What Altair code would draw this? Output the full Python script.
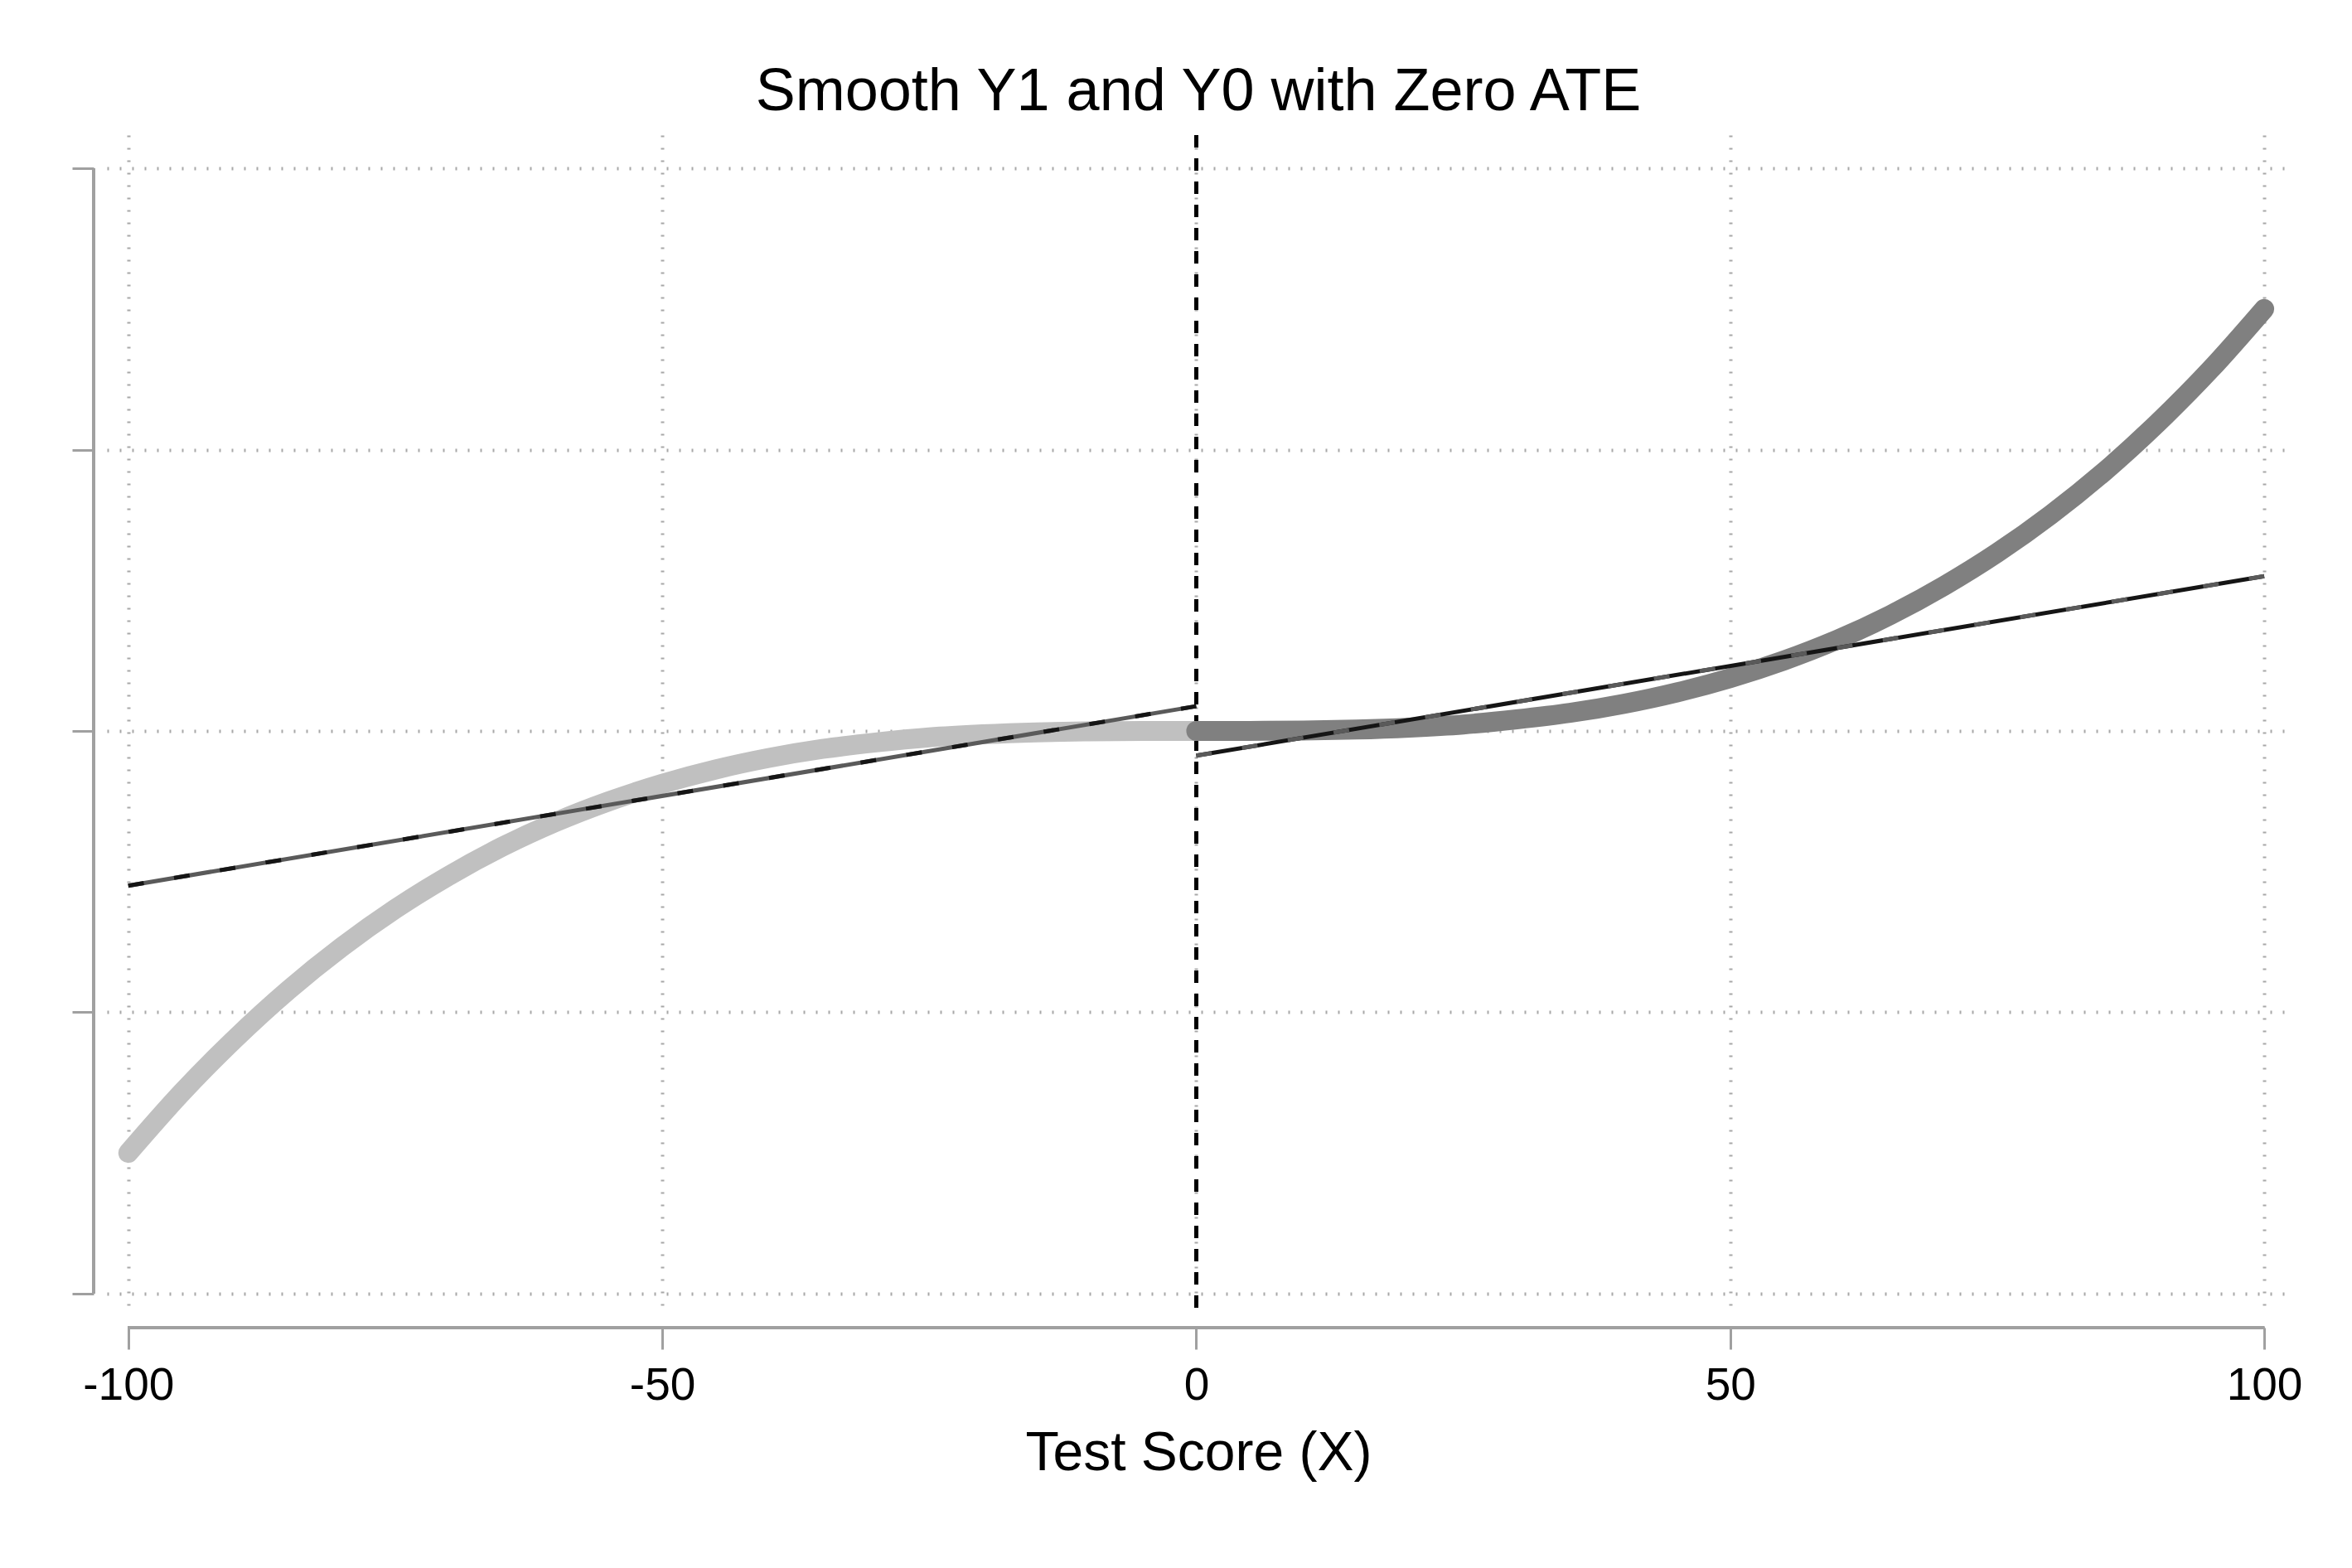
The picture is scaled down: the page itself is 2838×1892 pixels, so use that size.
import altair as alt
import pandas as pd

# values (y in grid units, grid lines at -2..2)
x_left = [-100, -95, -90, -85, -80, -75, -70, -65, -60, -55, -50,
          -45, -40, -35, -30, -25, -20, -15, -10, -5, 0]
y_left = [-1.50, -1.286, -1.094, -0.921, -0.768, -0.633, -0.515, -0.412, -0.324, -0.250, -0.188,
          -0.137, -0.096, -0.064, -0.041, -0.023, -0.012, -0.005, -0.0015, -0.0002, 0.0]
x_right = [0, 5, 10, 15, 20, 25, 30, 35, 40, 45, 50,
           55, 60, 65, 70, 75, 80, 85, 90, 95, 100]
y_right = [0.0, 0.0002, 0.0015, 0.005, 0.012, 0.023, 0.041, 0.064, 0.096, 0.137, 0.188,
           0.250, 0.324, 0.412, 0.515, 0.633, 0.768, 0.921, 1.094, 1.286, 1.50]

fit_x_left = [-100, 0]
fit_y_left = [-0.55, 0.088]
fit_x_right = [0, 100]
fit_y_right = [-0.088, 0.55]

x_ticks = [-100, -50, 0, 50, 100]
y_ticks = [-2, -1, 0, 1, 2]

W, H = 2634, 1423
FONT = "Liberation Sans"

left = pd.DataFrame({"x": x_left, "y": y_left})
right = pd.DataFrame({"x": x_right, "y": y_right})
fit_left = pd.DataFrame({"x": fit_x_left, "y": fit_y_left})
fit_right = pd.DataFrame({"x": fit_x_right, "y": fit_y_right})

xs = alt.Scale(domain=[-102, 102.4], nice=False, zero=False)
ys = alt.Scale(domain=[-2.074, 2.118], nice=False, zero=False)

grid_style = dict(grid=True, gridColor="#a8a8a8", gridWidth=4, gridDash=[2, 13], gridOpacity=1)

x_axis = alt.Axis(values=x_ticks, title="Test Score (X)", domain=False,
                  offset=16, tickSize=26, tickWidth=3, tickColor="#a0a0a0",
                  labelExpr="datum.value", labelFontSize=55, labelFont=FONT,
                  labelColor="black", labelPadding=17, labelFlush=False,
                  titleFontSize=66, titleFont=FONT, titleFontWeight="normal",
                  titleColor="black", titlePadding=22, **grid_style)
y_axis = alt.Axis(values=y_ticks, title=None, labels=False, domain=False,
                  offset=16, tickSize=26, tickWidth=3, tickColor="#a0a0a0", **grid_style)

X = alt.X("x:Q", scale=xs, axis=x_axis)
Y = alt.Y("y:Q", scale=ys, axis=y_axis)

xline = alt.Chart(left).mark_rule(color="black", strokeWidth=4, strokeDash=[15, 13]).encode(
    x=alt.datum(0, scale=xs, axis=x_axis)
)

scat_left = alt.Chart(left).mark_line(color="#c0c0c0", strokeWidth=24, strokeCap="round",
                                      interpolate="monotone").encode(x=X, y=Y)
scat_right = alt.Chart(right).mark_line(color="#808080", strokeWidth=24, strokeCap="round",
                                        interpolate="monotone").encode(x=X, y=Y)

fitl_base = alt.Chart(fit_left).mark_line(color="#5a5a5a", strokeWidth=5).encode(x=X, y=Y)
fitl_dash = alt.Chart(fit_left).mark_line(color="#151515", strokeWidth=5,
                                          strokeDash=[19, 37]).encode(x=X, y=Y)
fitr_base = alt.Chart(fit_right).mark_line(color="#151515", strokeWidth=5).encode(x=X, y=Y)
fitr_dash = alt.Chart(fit_right).mark_line(color="#5a5a5a", strokeWidth=5,
                                           strokeDash=[19, 37]).encode(x=X, y=Y)

# Stata-style axis lines, offset from the plot region and spanning only the tick range
yline = alt.Chart(left).mark_rule(color="#a0a0a0", strokeWidth=3).encode(
    x=alt.value(-16), y=alt.datum(y_ticks[0]), y2=alt.datum(y_ticks[-1])
)
xaxis_line = alt.Chart(left).mark_rule(color="#a0a0a0", strokeWidth=3).encode(
    y=alt.value(H + 16), x=alt.datum(x_ticks[0]), x2=alt.datum(x_ticks[-1])
)

chart = alt.layer(
    xline, scat_left, scat_right, fitl_base, fitl_dash, fitr_base, fitr_dash, yline, xaxis_line
).properties(
    width=W,
    height=H,
    background="white",
    title=alt.TitleParams("Smooth Y1 and Y0 with Zero ATE", fontSize=72, font=FONT,
                          fontWeight="normal", color="black", anchor="middle", offset=13),
    autosize=alt.AutoSizeParams(type="none"),
    padding={"left": 121, "top": 155, "right": 60, "bottom": 290},
).configure_view(
    strokeWidth=0, stroke=None
)

chart.save("out.html", embed_options={"renderer": "svg", "actions": False})
